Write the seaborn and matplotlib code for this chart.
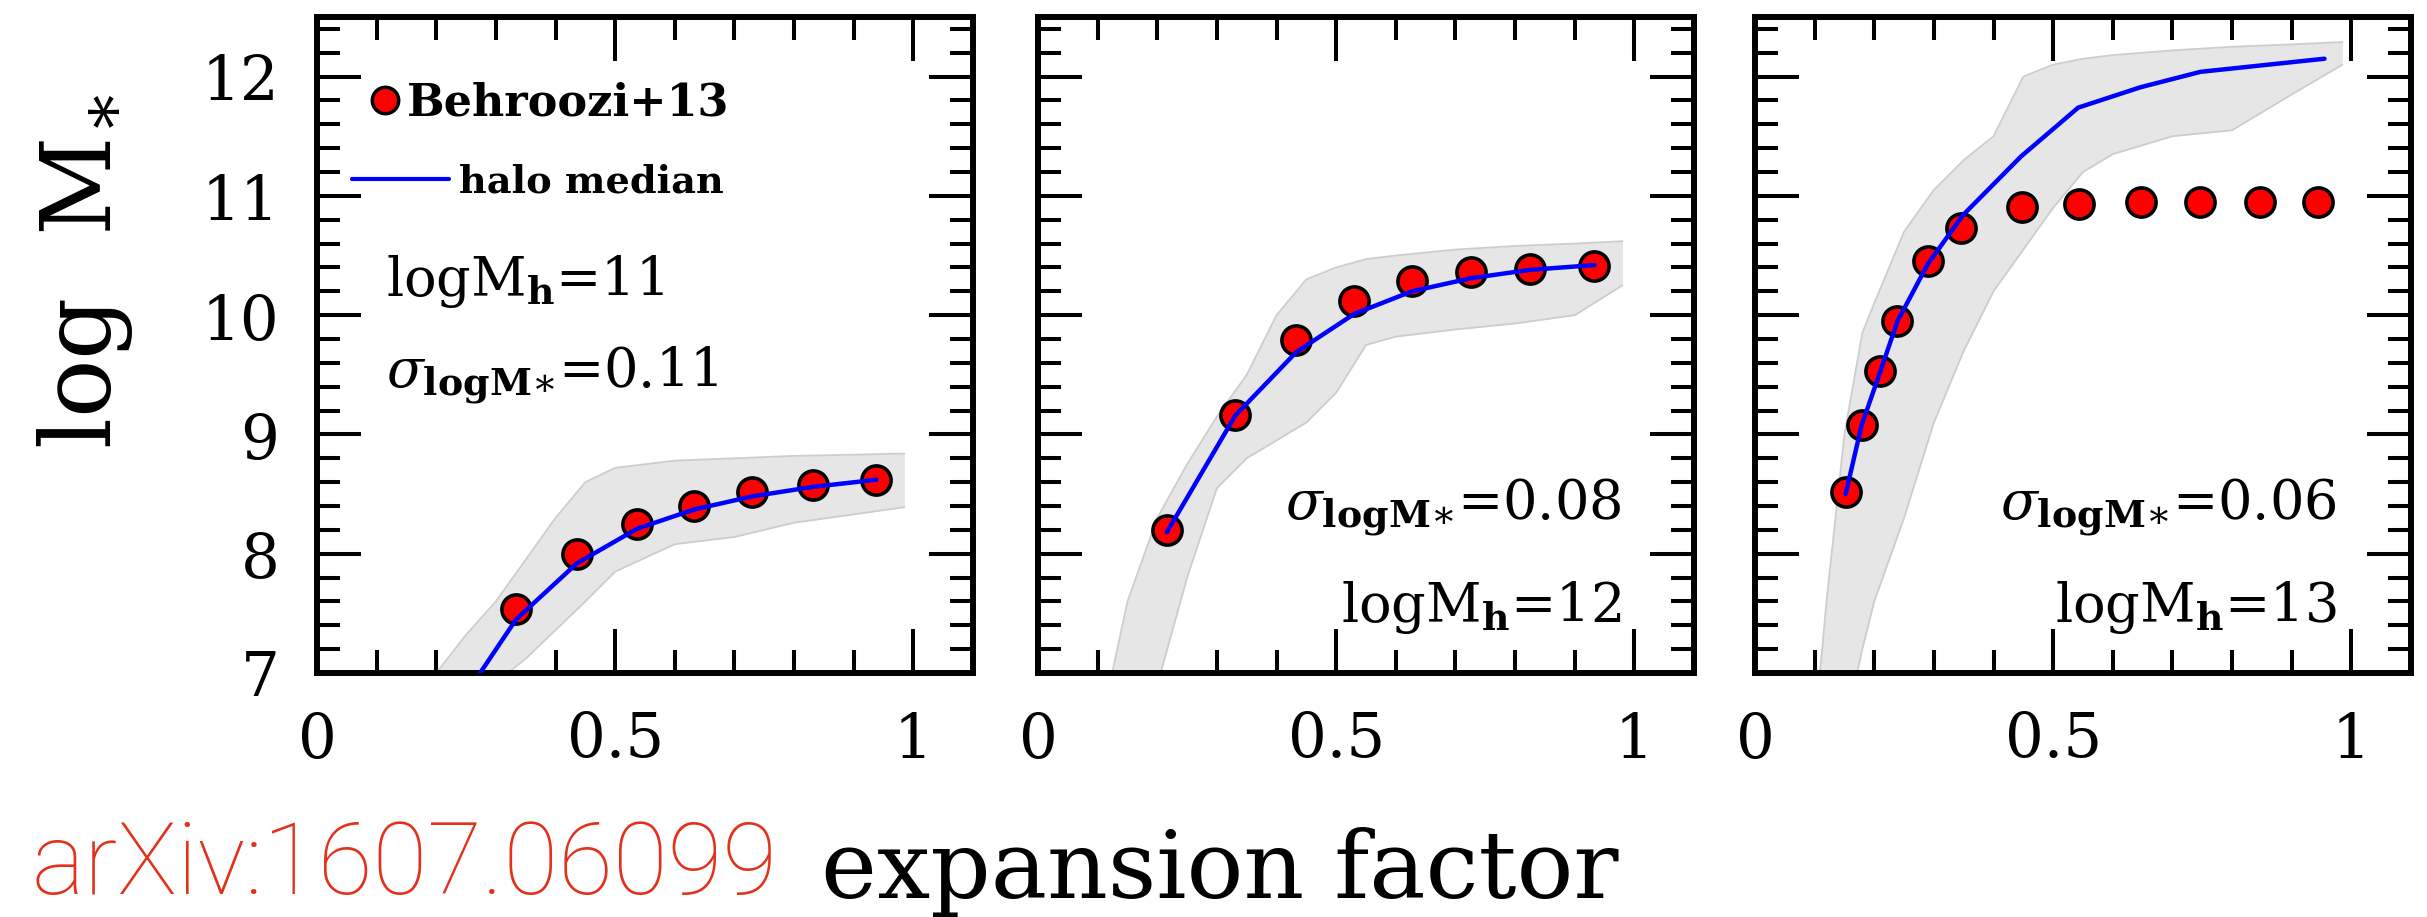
import numpy as np
import pandas as pd
import matplotlib
matplotlib.use("Agg")
import matplotlib.pyplot as plt
from matplotlib.lines import Line2D
from matplotlib.ticker import MultipleLocator
import seaborn as sns

# --- Data ---
halo_masses = [11, 12, 13]
sigma_labels = ["0.11", "0.08", "0.06"]

# Behroozi+13 points: expansion factor a, log M*
b13_a_11 = [0.334, 0.436, 0.537, 0.632, 0.729, 0.831, 0.938]
b13_m_11 = [7.54, 8.00, 8.25, 8.40, 8.52, 8.58, 8.62]
b13_a_12 = [0.216, 0.331, 0.433, 0.530, 0.627, 0.726, 0.825, 0.933]
b13_m_12 = [8.20, 9.16, 9.79, 10.12, 10.29, 10.36, 10.39, 10.41]
b13_a_13 = [0.152, 0.179, 0.209, 0.239, 0.290, 0.345, 0.447, 0.544, 0.648, 0.747, 0.846, 0.944]
b13_m_13 = [8.52, 9.08, 9.53, 9.95, 10.45, 10.73, 10.91, 10.93, 10.95, 10.95, 10.95, 10.95]

# halo median track
med_a_11 = [0.24, 0.334, 0.436, 0.537, 0.632, 0.729, 0.831, 0.938]
med_m_11 = [6.75, 7.45, 7.92, 8.21, 8.37, 8.48, 8.56, 8.62]
med_a_12 = [0.216, 0.331, 0.433, 0.530, 0.627, 0.726, 0.825, 0.933]
med_m_12 = [8.18, 9.16, 9.69, 10.01, 10.20, 10.31, 10.38, 10.42]
med_a_13 = [0.152, 0.179, 0.209, 0.239, 0.290, 0.349, 0.446, 0.542, 0.646, 0.747, 0.955]
med_m_13 = [8.50, 9.08, 9.51, 9.95, 10.43, 10.84, 11.33, 11.74, 11.91, 12.04, 12.15]

# spread of the individual halo tracks (lower / upper envelope)
env_a_11 = [0.20, 0.25, 0.30, 0.35, 0.40, 0.45, 0.50, 0.60, 0.70, 0.80, 0.90, 0.985]
env_lo_11 = [6.50, 6.70, 6.92, 7.12, 7.36, 7.60, 7.85, 8.08, 8.14, 8.26, 8.33, 8.39]
env_hi_11 = [7.00, 7.32, 7.60, 7.95, 8.30, 8.60, 8.72, 8.78, 8.80, 8.82, 8.83, 8.84]
env_a_12 = [0.12, 0.15, 0.20, 0.25, 0.30, 0.35, 0.40, 0.45, 0.50, 0.55, 0.60, 0.70, 0.80, 0.90, 0.98]
env_lo_12 = [6.00, 6.40, 6.90, 7.80, 8.55, 8.80, 8.95, 9.10, 9.35, 9.75, 9.82, 9.88, 9.93, 10.00, 10.25]
env_hi_12 = [6.90, 7.60, 8.30, 8.75, 9.15, 9.50, 10.00, 10.30, 10.40, 10.47, 10.50, 10.55, 10.58, 10.60, 10.62]
env_a_13 = [0.10, 0.12, 0.15, 0.18, 0.20, 0.25, 0.30, 0.35, 0.40, 0.45, 0.50, 0.55, 0.60, 0.70, 0.80, 0.90, 0.985]
env_lo_13 = [5.50, 6.00, 6.50, 7.20, 7.60, 8.30, 9.10, 9.70, 10.20, 10.55, 10.90, 11.20, 11.35, 11.50, 11.55, 11.85, 12.10]
env_hi_13 = [6.50, 7.60, 9.00, 9.85, 10.10, 10.70, 11.05, 11.30, 11.50, 12.00, 12.10, 12.15, 12.18, 12.22, 12.25, 12.27, 12.29]

b13_df = pd.concat([
    pd.DataFrame({"Mh": m, "a": a, "logMs": y})
    for m, a, y in [(11, b13_a_11, b13_m_11), (12, b13_a_12, b13_m_12), (13, b13_a_13, b13_m_13)]
])
med_df = pd.concat([
    pd.DataFrame({"Mh": m, "a": a, "logMs": y})
    for m, a, y in [(11, med_a_11, med_m_11), (12, med_a_12, med_m_12), (13, med_a_13, med_m_13)]
])
envelopes = {11: (env_a_11, env_lo_11, env_hi_11),
             12: (env_a_12, env_lo_12, env_hi_12),
             13: (env_a_13, env_lo_13, env_hi_13)}

# --- Style ---
sns.set_style("ticks", {"text.color": "black", "xtick.color": "black",
                        "ytick.color": "black", "axes.labelcolor": "black",
                        "axes.edgecolor": "black"})
plt.rcParams["font.family"] = ["DejaVu Serif"]
plt.rcParams["mathtext.fontset"] = "dejavuserif"

fig = plt.figure(figsize=(24.27, 9.17), dpi=100)
lefts = [0.1306, 0.4277, 0.7231]

for i, mh in enumerate(halo_masses):
    ax = fig.add_axes([lefts[i], 0.2661, 0.2703, 0.7154])

    # individual halo tracks shown as a light grey band
    ea, elo, ehi = envelopes[mh]
    ax.fill_between(ea, elo, ehi, color="#e6e6e6", lw=0, zorder=1)
    ax.plot(ea, elo, color="#cdcdcd", lw=1.3, zorder=1)
    ax.plot(ea, ehi, color="#cdcdcd", lw=1.3, zorder=1)

    sns.scatterplot(data=b13_df[b13_df["Mh"] == mh], x="a", y="logMs", ax=ax,
                    s=440, color="red", edgecolor="black", linewidth=2.6, zorder=3)
    sns.lineplot(data=med_df[med_df["Mh"] == mh], x="a", y="logMs", ax=ax,
                 color="blue", lw=3.2, sort=False, estimator=None, zorder=4)

    ax.set_xlim(0, 1.1)
    ax.set_ylim(7, 12.5)
    ax.set_xticks([0, 0.5, 1])
    ax.set_xticklabels(["0", "0.5", "1"])
    ax.xaxis.set_minor_locator(MultipleLocator(0.1))
    ax.set_yticks(range(7, 13))
    ax.yaxis.set_minor_locator(MultipleLocator(0.2))
    ax.tick_params(which="both", direction="in", top=True, right=True,
                   width=2.9, labelsize=44, pad=27, color="black", labelcolor="black")
    ax.tick_params(which="major", length=31.7)
    ax.tick_params(which="minor", length=16.6)
    if i > 0:
        ax.tick_params(labelleft=False)
    ax.set_xlabel("")
    ax.set_ylabel("")
    for sp in ax.spines.values():
        sp.set_linewidth(4.3)
        sp.set_color("black")

    mh_text = r"logM$_{\mathbf{h}}$=" + str(mh)
    sig_text = r"$\sigma_{\mathbf{logM}{\ast}}$=" + sigma_labels[i]
    if i == 0:
        ax.text(0.115, 10.16, mh_text, fontsize=39, va="baseline")
        ax.text(0.115, 9.40, sig_text, fontsize=39, va="baseline")

        # legend: two rows with their own spacing, as in the paper
        dot = Line2D([], [], marker="o", ls="none", markerfacecolor="red",
                     markeredgecolor="black", markersize=19, markeredgewidth=2.5)
        leg1 = ax.legend([dot], ["Behroozi+13"], loc="center left",
                         bbox_to_anchor=(0.087, 0.869), frameon=False,
                         borderpad=0, borderaxespad=0, handlelength=0.5,
                         handletextpad=0.25,
                         prop={"family": "DejaVu Serif", "weight": "bold", "size": 32})
        ax.add_artist(leg1)
        med_handle = Line2D([], [], color="blue", lw=3)
        ax.legend([med_handle], ["halo median"], loc="center left",
                  bbox_to_anchor=(0.053, 0.748), frameon=False,
                  borderpad=0, borderaxespad=0, handlelength=2.55,
                  handletextpad=0.25,
                  prop={"family": "DejaVu Serif", "weight": "bold", "size": 27.5})
    else:
        xr = 0.978 if i == 1 else 0.975
        ax.text(xr, 8.29, sig_text, fontsize=39, ha="right", va="baseline")
        ax.text(xr, 7.43, mh_text, fontsize=39, ha="right", va="baseline")

fig.text(0.035, 0.704, r"log  M$_{\ast}$", rotation=90, fontsize=70,
         ha="center", va="center")
fig.text(0.5027, 0.021, "expansion factor", fontsize=68, ha="center", va="baseline")
fig.text(0.0128, 0.003, "arXiv:1607.06099", fontsize=72, color="#e3321c",
         family=["Roboto", "DejaVu Sans"], weight="light", va="bottom")

fig.savefig("out.png", dpi=100)
